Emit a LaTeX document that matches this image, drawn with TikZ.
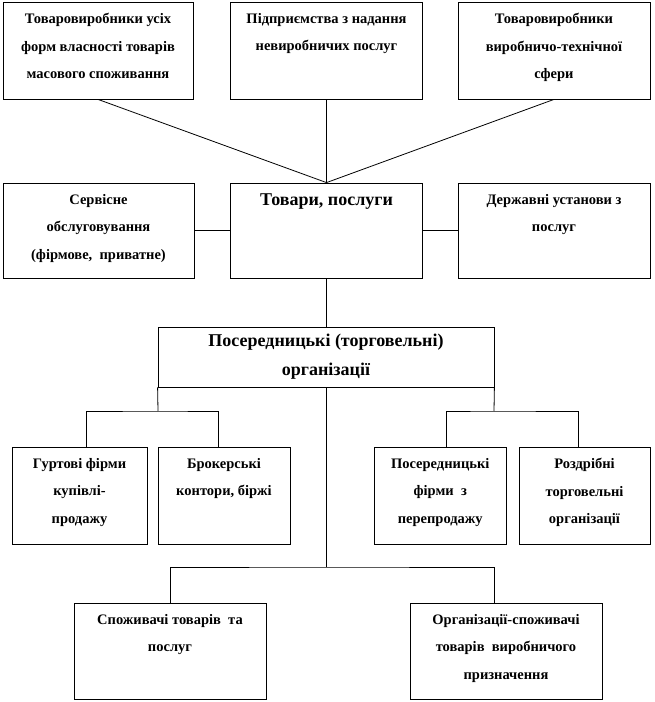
\documentclass[tikz,border=0pt]{standalone}
\usepackage{fontspec}
\setmainfont{Liberation Serif}
\begin{document}
\begin{tikzpicture}[x=1pt,y=1pt,
  box/.style={draw, line width=0.8pt, inner sep=0pt},
  link/.style={line width=0.8pt},
  txt/.style={align=center, inner sep=0pt, anchor=north, font=\fontsize{14.5}{27.5}\selectfont\bfseries},
  bigtxt/.style={align=center, inner sep=0pt, anchor=north, font=\fontsize{18}{29}\selectfont\bfseries}]
\useasboundingbox (0,0) rectangle (654,702);
% top row
\node[box, minimum width=190pt, minimum height=97pt] (b1) at (98,651.5) {};
\node[box, minimum width=191.5pt, minimum height=97pt] (b2) at (326.5,651.5) {};
\node[box, minimum width=192pt, minimum height=97pt] (b3) at (554,651.5) {};
% middle row
\node[box, minimum width=191pt, minimum height=95pt] (b4) at (98.5,471.5) {};
\node[box, minimum width=191.5pt, minimum height=95pt] (b5) at (326.5,471.5) {};
\node[box, minimum width=192pt, minimum height=95pt] (b6) at (554,471.5) {};
% intermediaries
\node[box, minimum width=336pt, minimum height=60pt] (b7) at (326,345) {};
% fourth row
\node[box, minimum width=135pt, minimum height=97pt] (b8) at (79.5,206.5) {};
\node[box, minimum width=132pt, minimum height=97pt] (b9) at (224,206.5) {};
\node[box, minimum width=131.5pt, minimum height=97pt] (b10) at (440.25,206.5) {};
\node[box, minimum width=131pt, minimum height=97pt] (b11) at (584.5,206.5) {};
% bottom row
\node[box, minimum width=192pt, minimum height=96pt] (b12) at (170,51) {};
\node[box, minimum width=192pt, minimum height=96pt] (b13) at (506,51) {};

% texts
\node[txt] (t1) at ([yshift=-11.5pt]b1.north) {Товаровиробники усіх\\форм власності товарів\\масового споживання};
\node[txt] (t2) at ([yshift=-11.5pt]b2.north) {Підприємства з надання\\невиробничих послуг};
\node[txt] (t3) at ([yshift=-11.5pt]b3.north) {Товаровиробники\\виробничо-технічної\\сфери};
\node[txt] (t4) at ([yshift=-11.5pt]b4.north) {Сервісне\\обслуговування\\(фірмове,\ \ приватне)};
\node[bigtxt] (t5) at ([yshift=-11pt]b5.north) {Товари, послуги};
\node[txt] (t6) at ([yshift=-11.5pt]b6.north) {Державні установи з\\послуг};
\node[bigtxt] (t7) at ([yshift=-7.5pt]b7.north) {Посередницькі (торговельні)\\організації};
\node[txt] (t8) at ([yshift=-11.5pt]b8.north) {Гуртові фірми\\купівлі-\\продажу};
\node[txt] (t9) at ([yshift=-11.5pt]b9.north) {Брокерські\\контори, біржі};
\node[txt] (t10) at ([yshift=-11.5pt]b10.north) {Посередницькі\\фірми\ \ з\\перепродажу};
\node[txt] (t11) at ([yshift=-11.5pt]b11.north) {Роздрібні\\торговельні\\організації};
\node[txt] (t12) at ([yshift=-11.5pt]b12.north) {Споживачі товарів\ \ та\\послуг};
\node[txt] (t13) at ([yshift=-11.5pt]b13.north) {Організації-споживачі\\товарів\ \ виробничого\\призначення};

% connectors
\coordinate (jl) at (158,291);
\coordinate (jr) at (494,291);
\coordinate (jb) at (326,135);
\draw[link] (b1.south) -- (b5.north);
\draw[link] (b2.south) -- (b5.north);
\draw[link] (b3.south) -- (b5.north);
\draw[link] (b4.east) -- (b5.west);
\draw[link] (b5.east) -- (b6.west);
\draw[link] (b5.south) -- (b5.south |- b7.north);
\draw[link] (b7.south west) -- (jl);
\draw[link] ([xshift=6.5pt]b8.north) |- (jl) -| ([xshift=-6pt]b9.north);
\draw[link] (b7.south east) -- (jr);
\draw[link] ([xshift=6pt]b10.north) |- (jr) -| ([xshift=-6.5pt]b11.north);
\draw[link] (b7.south) -- (jb);
\draw[link] (b12.north) |- (jb) -| ([xshift=-12pt]b13.north);
\end{tikzpicture}
\end{document}
